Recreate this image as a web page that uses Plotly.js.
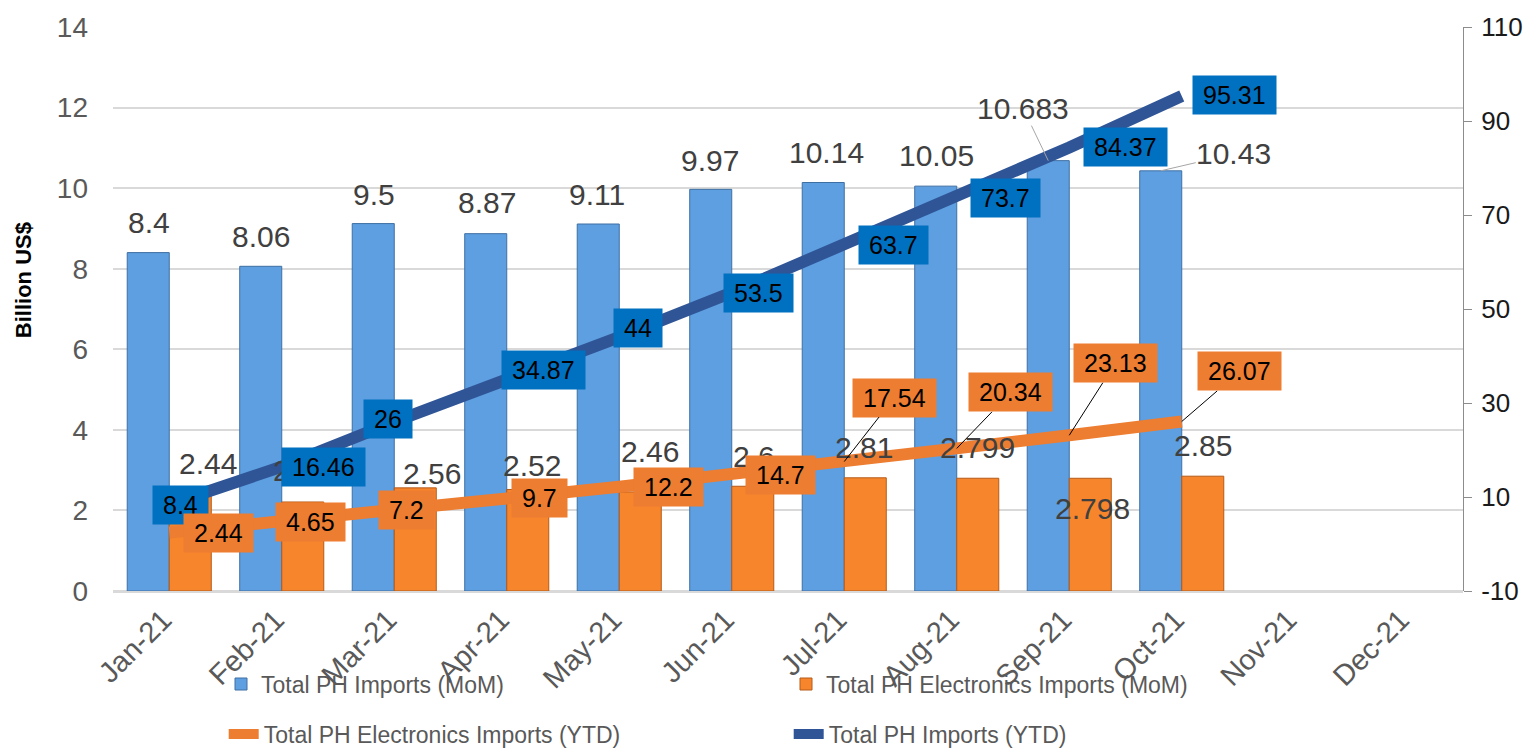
<!DOCTYPE html>
<html>
<head>
<meta charset="utf-8">
<script src="https://cdn.plot.ly/plotly-3.0.1.min.js"></script>
<style>
html,body{margin:0;padding:0;background:#fff;}
#chart{width:1534px;height:751px;}
</style>
</head>
<body>
<div id="chart"></div>
<script>
// ---------------- DATA ----------------
const months = ['Jan-21','Feb-21','Mar-21','Apr-21','May-21','Jun-21','Jul-21','Aug-21','Sep-21','Oct-21','Nov-21','Dec-21'];
const totalMoM = [8.4, 8.06, 9.12, 8.87, 9.11, 9.97, 10.14, 10.05, 10.683, 10.43];
const totalMoMLabels = ['8.4','8.06','9.5','8.87','9.11','9.97','10.14','10.05','10.683','10.43'];
const elecMoM = [2.44, 2.21, 2.56, 2.52, 2.46, 2.6, 2.81, 2.799, 2.798, 2.85];
const elecMoMLabels = ['2.44','2.21','2.56','2.52','2.46','2.6','2.81','2.799','2.798','2.85'];
const totalYTD = [8.4, 16.46, 26, 34.87, 44, 53.5, 63.7, 73.7, 84.37, 95.31];
const elecYTD = [2.44, 4.65, 7.2, 9.7, 12.2, 14.7, 17.54, 20.34, 23.13, 26.07];
const seriesNames = ['Total PH Imports (MoM)','Total PH Electronics Imports (MoM)','Total PH Electronics Imports (YTD)','Total PH Imports (YTD)'];
const rightTickVals = [-10, 10, 30, 50, 70, 90, 110];
const rightTickText = ['-10', '10', '30', '50', '70', '90', '110'];

// ---------------- LABEL PLACEMENT (pixel offsets, not data) ----------------
// [dx, dy] screen pixels from the anchor point; objects with ax/ay use a leader line
const totalMoMPos = [[1,-30],[0,-30],[1,-29],[1,-31],[-1,-30],[-1,-29],[3,-30],[1,-31],{ax:-25,ay:-52},{ax:73,ay:-17}];
const elecMoMPos  = [[18,-29],[-1,-31],[17,-14],[4,-24],[10,-40],[1,-30],[-1,-30],[0,-31],[2,30],[0,-31]];
const totalYTDPos = [[11,0],[42,0],[-6,-3],[37,-10],[19,-9],[27,0],[49,0],[49,0],[56,0],[53,-1]];
const elecYTDPos  = [[49,0],[29,0],[12,0],[33,0],[49,0],[49,0],{ax:50,ay:-64},{ax:54,ay:-56},{ax:46,ay:-72},{ax:58,ay:-50}];
const BAR_SHIFT = 21;

const FONT = 'Liberation Sans, Arial, sans-serif';
const grayLabelFont = {family: FONT, size: 30, color: '#404040'};
const boxFont = {family: FONT, size: 25, color: '#000000'};

function makeAnn(i, y, yref, text, pos, shift, opts) {
  const a = {
    x: months[i], y: y, xref: 'x', yref: yref, text: text,
    font: opts.font, bgcolor: opts.bg || 'rgba(0,0,0,0)', borderpad: opts.pad || 0,
    xanchor: 'center', yanchor: 'middle'
  };
  if (Array.isArray(pos)) {
    a.showarrow = false;
    a.xshift = shift + pos[0];
    a.yshift = -pos[1];
  } else {
    a.showarrow = true;
    a.arrowhead = 0;
    a.arrowwidth = 1;
    a.arrowcolor = opts.ac || '#000';
    a.standoff = 0;
    a.ax = pos.ax; a.ay = pos.ay;
    a.axref = 'pixel'; a.ayref = 'pixel';
    a.xshift = shift;
  }
  return a;
}

const annotations = [];
totalMoM.forEach((v, i) => annotations.push(makeAnn(i, v, 'y', totalMoMLabels[i], totalMoMPos[i], -BAR_SHIFT, {font: grayLabelFont, ac: '#A6A6A6'})));
elecMoM.forEach((v, i) => annotations.push(makeAnn(i, v, 'y', elecMoMLabels[i], elecMoMPos[i], BAR_SHIFT, {font: grayLabelFont, ac: '#A6A6A6'})));
const sp = '\u2009';
totalYTD.forEach((v, i) => annotations.push(makeAnn(i, v, 'y2', sp + v + sp, totalYTDPos[i], 0, {font: boxFont, bg: '#0070C0', pad: 5})));
elecYTD.forEach((v, i) => annotations.push(makeAnn(i, v, 'y2', sp + v + sp, elecYTDPos[i], 0, {font: boxFont, bg: '#ED7D31', pad: 5, ac: '#000'})));

// y-axis title
annotations.push({
  text: '<b>Billion US$</b>', xref: 'paper', yref: 'paper', x: -0.0667, y: 0.551,
  xanchor: 'center', yanchor: 'middle', textangle: -90, showarrow: false,
  font: {family: FONT, size: 22, color: '#000'}
});

const xs = months.slice(0, totalMoM.length);

const traces = [
  {type: 'bar', name: seriesNames[0], x: xs, y: totalMoM, legend: 'legend',
   marker: {color: '#5E9FE1', line: {color: '#3E6FA3', width: 1}}},
  {type: 'bar', name: seriesNames[1], x: xs, y: elecMoM, legend: 'legend',
   marker: {color: '#F7852C', line: {color: '#B55A18', width: 1}}},
  {type: 'scatter', mode: 'lines', name: seriesNames[2], x: xs, y: elecYTD, yaxis: 'y2', legend: 'legend2',
   line: {color: '#ED7D31', width: 12}},
  {type: 'scatter', mode: 'lines', name: seriesNames[3], x: xs, y: totalYTD, yaxis: 'y2', legend: 'legend2',
   line: {color: '#2F5597', width: 12}}
];

const legendFont = {family: 'Liberation Sans Narrow, Arial Narrow, Liberation Sans, sans-serif', size: 23, color: '#595959'};

const layout = {
  width: 1534, height: 751,
  margin: {l: 113, r: 71, t: 27, b: 160, autoexpand: false},
  paper_bgcolor: '#ffffff', plot_bgcolor: '#ffffff',
  barmode: 'group', bargap: 0.253, bargroupgap: 0,
  showlegend: true,
  font: {family: FONT},
  xaxis: {
    type: 'category', categoryorder: 'array', categoryarray: months, range: [-0.5, 11.5],
    tickangle: -45, tickfont: {family: FONT, size: 29, color: '#595959'},
    showgrid: false, showline: false, ticks: '', zeroline: false,
    ticklabelstandoff: 5, ticklabelshift: -6, automargin: false
  },
  yaxis: {
    range: [0, 14], tick0: 0, dtick: 2,
    tickfont: {family: FONT, size: 28, color: '#595959'},
    gridcolor: '#D9D9D9', gridwidth: 2,
    zeroline: true, zerolinecolor: '#D9D9D9', zerolinewidth: 3,
    showline: false, ticks: '', ticklabelstandoff: 24, automargin: false
  },
  yaxis2: {
    overlaying: 'y', side: 'right', range: [-10, 110],
    tickmode: 'array', tickvals: rightTickVals, ticktext: rightTickText,
    tickfont: {family: FONT, size: 26, color: '#1a1a1a'},
    showgrid: false, zeroline: false,
    showline: true, linecolor: '#8C8C8C', linewidth: 1,
    ticks: 'outside', ticklen: 8, tickcolor: '#8C8C8C', ticklabelstandoff: 4, automargin: false
  },
  legend: {
    orientation: 'h', x: 0.08, y: -0.165, xanchor: 'left', yanchor: 'middle',
    entrywidth: 520, entrywidthmode: 'pixels', font: legendFont,
    bgcolor: 'rgba(0,0,0,0)', traceorder: 'normal'
  },
  legend2: {
    orientation: 'h', x: 0.082, y: -0.2535, xanchor: 'left', yanchor: 'middle',
    entrywidth: 520, entrywidthmode: 'pixels', font: legendFont,
    bgcolor: 'rgba(0,0,0,0)', traceorder: 'normal'
  },
  annotations: annotations,
  hovermode: false
};

Plotly.newPlot('chart', traces, layout, {staticPlot: true, displayModeBar: false});
</script>
</body>
</html>
